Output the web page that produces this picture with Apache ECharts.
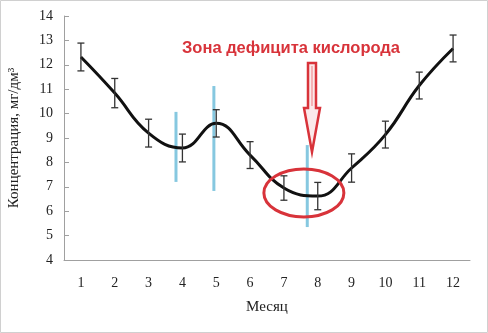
<!DOCTYPE html>
<html><head><meta charset="utf-8">
<script src="https://cdn.jsdelivr.net/npm/echarts@6/dist/echarts.min.js"></script>
<style>html,body{margin:0;padding:0;background:#fff}#c{width:488px;height:333px}</style>
</head><body><div id="c"></div>
<script>
const months = ['1','2','3','4','5','6','7','8','9','10','11','12'];
const conc = [12.32, 10.84, 9.2, 8.59, 9.6, 8.3, 6.95, 6.62, 7.77, 9.14, 11.15, 12.67];
const errs = [0.57, 0.6, 0.57, 0.57, 0.56, 0.55, 0.5, 0.56, 0.58, 0.55, 0.55, 0.55];
const blueX = [3.81, 4.93, 7.69];
const blueLow = [7.2, 6.83, 5.35];
const blueHigh = [10.07, 11.13, 8.71];
const yTicks = [4,5,6,7,8,9,10,11,12,13,14];
const zoneTitle = 'Зона дефицита кислорода';
const zoneCenter = [7.59, 6.75];
const arrowTip = [7.83, 8.43];

const chart = echarts.init(document.getElementById('c'), null, {renderer:'canvas'});
const serif = '"Liberation Serif","DejaVu Serif",serif';
const errData = months.map((m,i)=>[i+1, conc[i]-errs[i], conc[i]+errs[i]]);
const blueData = blueX.map((x,i)=>[x, blueLow[i], blueHigh[i]]);

chart.setOption({
  animation:false,
  backgroundColor:'#fff',
  grid:{left:64, right:18, top:16, bottom:73, containLabel:false, outerBoundsMode:'none'},
  xAxis:[{
    type:'category', data:months, boundaryGap:true,
    name:'Месяц', nameLocation:'middle', nameGap:40,
    nameTextStyle:{fontFamily:serif, fontSize:15, color:'#222'},
    axisLine:{lineStyle:{color:'#a0a0a0', width:1}},
    axisTick:{show:false},
    axisLabel:{fontFamily:serif, fontSize:14, color:'#222', margin:16},
    splitLine:{show:false}
  },{
    type:'value', min:0.5, max:12.5, show:false, position:'bottom'
  }],
  yAxis:{
    type:'value', min:yTicks[0], max:yTicks[yTicks.length-1], interval:1,
    name:'Концентрация, мг/дм³', nameLocation:'middle', nameGap:42,
    nameTextStyle:{fontFamily:serif, fontSize:15, color:'#222'},
    axisLine:{show:true, lineStyle:{color:'#a0a0a0', width:1}},
    axisTick:{show:true, inside:true, length:5, lineStyle:{color:'#a0a0a0'}},
    axisLabel:{fontFamily:serif, fontSize:14, color:'#222', margin:11},
    splitLine:{show:false}
  },
  series:[
    {
      type:'custom', xAxisIndex:1, data:blueData, z:1,
      renderItem:function(params, api){
        const a = api.coord([api.value(0), api.value(1)]);
        const b = api.coord([api.value(0), api.value(2)]);
        return {type:'line', shape:{x1:a[0],y1:a[1],x2:b[0],y2:b[1]},
          style:{stroke:'#86c8e0', lineWidth:3}};
      }
    },
    {
      type:'line', xAxisIndex:0, data:conc, smooth:0.45, symbol:'none', z:3,
      lineStyle:{color:'#111', width:3}
    },
    {
      type:'custom', xAxisIndex:1, data:errData, z:4,
      renderItem:function(params, api){
        const a = api.coord([api.value(0), api.value(1)]);
        const b = api.coord([api.value(0), api.value(2)]);
        const w = 3.5;
        const st = {stroke:'#333', lineWidth:1.3};
        return {type:'group', children:[
          {type:'line', shape:{x1:a[0],y1:a[1],x2:b[0],y2:b[1]}, style:st},
          {type:'line', shape:{x1:a[0]-w,y1:a[1],x2:a[0]+w,y2:a[1]}, style:st},
          {type:'line', shape:{x1:b[0]-w,y1:b[1],x2:b[0]+w,y2:b[1]}, style:st}
        ]};
      }
    }
  ]
});

const c = chart.convertToPixel({xAxisIndex:1, yAxisIndex:0}, zoneCenter);
const t = chart.convertToPixel({xAxisIndex:1, yAxisIndex:0}, arrowTip);
chart.setOption({
  graphic:[
    {type:'rect', shape:{x:0.5,y:0.5,width:487,height:332}, style:{fill:'none', stroke:'#d0d0d0', lineWidth:1}, silent:true},
    {type:'text', x:291, y:48, style:{text:zoneTitle, fill:'#d8333a', font:'bold 16.5px "Liberation Sans", Arial, sans-serif', align:'center', verticalAlign:'middle'}},
    {type:'ellipse', shape:{cx:c[0], cy:c[1], rx:40, ry:24}, style:{fill:'none', stroke:'#d8333a', lineWidth:3}, z:10},
    {type:'polygon', z:10, shape:{points:[
      [t[0]-4, t[1]-89],[t[0]+4, t[1]-89],[t[0]+4, t[1]-44],[t[0]+8, t[1]-44],
      [t[0], t[1]],[t[0]-8, t[1]-44],[t[0]-4, t[1]-44]
    ]}, style:{fill:'#fbe9ea', stroke:'#d8333a', lineWidth:2.5}},
    {type:'line', z:11, shape:{x1:t[0], y1:t[1]-86, x2:t[0], y2:t[1]-46}, style:{stroke:'#f3a0a4', lineWidth:1.5}}
  ]
});
</script></body></html>
